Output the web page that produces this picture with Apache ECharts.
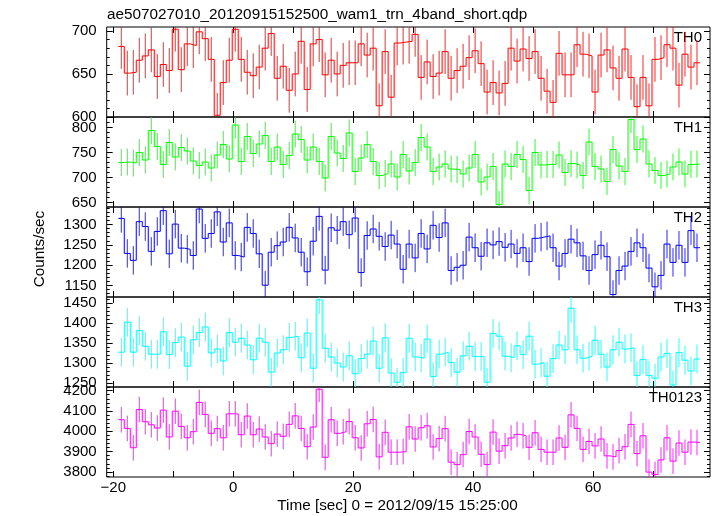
<!DOCTYPE html>
<html><head><meta charset="utf-8">
<script src="https://cdn.jsdelivr.net/npm/echarts@6/dist/echarts.min.js"></script>
<style>html,body{margin:0;padding:0;background:#fff}#c{width:717px;height:516px}</style>
</head><body><div id="c"></div>
<script>
const titleText = "ae507027010_20120915152500_wam1_trn_4band_short.qdp";
const xTitle = "Time [sec] 0 = 2012/09/15 15:25:00";
const yTitle = "Counts/sec";
// time bins (seconds): left edge of first bin and bin width
const binStart = -19.17;
const binWidth = 1.0;

const th0 = [682,651,652,666,671,678,647,661,654,702,655,685,683,699,691,667,602,640,666,702,
  667,652,648,658,680,697,645,659,631,650,688,632,685,690,649,666,650,660,663,663,
  685,672,680,613,676,623,686,687,688,696,646,664,647,651,676,645,654,659,669,677,
  662,629,640,628,639,680,665,679,668,676,645,630,617,674,649,649,684,673,671,629,
  672,678,657,645,679,646,612,646,613,667,669,684,680,637,673,658,663];
const th1 = [730,731,729,750,735,794,762,726,770,741,760,753,733,724,731,719,745,766,737,805,
  732,782,748,767,784,732,761,726,744,787,776,735,761,732,699,782,749,738,789,712,
  739,766,732,704,708,727,701,746,713,730,780,761,712,721,727,717,716,707,719,746,
  691,701,722,646,727,722,746,736,674,750,725,726,726,745,710,728,725,704,771,722,
  717,692,756,723,712,816,756,777,727,714,704,707,721,731,707,726,727];
const th2 = [1315,1229,1212,1307,1295,1234,1283,1334,1228,1301,1242,1239,1224,1338,1266,1278,1331,1257,1304,1224,
  1220,1293,1278,1228,1151,1232,1248,1257,1293,1267,1232,1184,1259,1320,1188,1292,1286,1307,1275,1316,
  1182,1273,1289,1271,1246,1274,1252,1190,1252,1218,1278,1240,1298,1268,1304,1187,1195,1200,1269,1243,
  1222,1255,1250,1258,1244,1252,1229,1243,1209,1266,1269,1272,1243,1198,1229,1264,1255,1223,1187,1226,
  1249,1221,1128,1187,1198,1234,1255,1243,1193,1147,1175,1252,1207,1249,1207,1285,1243];
const th3 = [1327,1402,1327,1381,1342,1322,1322,1378,1321,1351,1365,1292,1358,1376,1390,1325,1335,1305,1376,1352,
  1362,1345,1308,1362,1352,1277,1325,1333,1364,1367,1313,1375,1287,1458,1337,1315,1300,1290,1318,1273,
  1311,1322,1355,1287,1363,1275,1252,1276,1362,1315,1312,1360,1266,1322,1327,1301,1277,1318,1342,1316,
  1316,1252,1374,1367,1317,1313,1343,1321,1367,1297,1301,1267,1311,1345,1333,1437,1333,1312,1317,1357,
  1322,1290,1333,1352,1335,1338,1269,1309,1269,1262,1315,1324,1245,1326,1307,1280,1310];
const th0123 = [4057,4014,3919,4107,4047,4032,4016,4104,3972,4099,4024,3968,3998,4142,4083,3990,4013,3968,4086,4086,
  3983,4075,3983,4011,3972,3939,3986,3975,4034,4076,4014,3924,4021,4207,3872,4057,3990,3998,4048,3968,
  3918,4037,4058,3874,3995,3897,3897,3900,4022,3962,4017,4027,3923,3964,4013,3848,3836,3885,3999,3972,
  3887,3836,3996,3902,3929,3967,3985,3978,3921,3993,3911,3897,3897,3967,3921,4081,4014,3911,3950,3928,
  3962,3879,3874,3905,3924,4034,3890,3978,3799,3787,3859,3968,3853,3942,3897,3947,3945];

const panelNames = ["TH0","TH1","TH2","TH3","TH0123"];
const panelColors = ["#ff0000","#00ff00","#0000ff","#00ffff","#ff00ff"];
const errHalf = [26,27,35,36,63];
const yMin = [600,641,1122,1240,3775];
const yMax = [704.6,821,1343,1465,4218];
const yMajor = [[600,650,700],[650,700,750,800],[1150,1200,1250,1300],[1250,1300,1350,1400,1450],[3800,3900,4000,4100,4200]];
const yMinorStep = [10,10,10,10,20];
const xTicks = [-20,-10,0,10,20,30,40,50,60,70];
const xLabels = [-20,0,20,40,60];
const xMin = -21.1, xMax = 79.5;

const allSeries = [th0, th1, th2, th3, th0123];
const FONT = '"Liberation Sans", Arial, Helvetica, sans-serif';
const FS = 15;
const FT = 15.3;
const gridLeft = 106.7, gridRight = 7, gridTop = 27, panelH = 90;

const grids = [], xAxes = [], yAxes = [], ser = [], graphics = [];
for (let k = 0; k < allSeries.length; k++) {
  const top = gridTop + panelH * k;
  grids.push({left: gridLeft, right: gridRight, top: top, height: panelH, show: true,
    borderColor: '#000', borderWidth: 1, backgroundColor: 'transparent'});
  const minors = [];
  const st = yMinorStep[k];
  for (let v = Math.ceil(yMin[k] / st) * st; v <= yMax[k] + 1e-9; v += st) {
    if (!yMajor[k].includes(v)) minors.push(v);
  }
  const tickStyle = {color: '#000', width: 1};
  const noLine = {show: false, onZero: false};
  const xBase = {type: 'value', gridIndex: k, min: xMin, max: xMax,
    splitLine: {show: false}, axisLine: noLine,
    axisTick: {show: true, inside: true, length: 6, customValues: xTicks, lineStyle: tickStyle}};
  xAxes.push(Object.assign({}, xBase, {position: 'bottom',
    axisLabel: {show: k === allSeries.length - 1, customValues: xLabels, margin: 3,
      color: '#000', fontSize: FS, fontFamily: FONT,
      formatter: v => String(v).replace('-', '\u2212')}}));
  xAxes.push(Object.assign({}, xBase, {position: 'top', axisLabel: {show: false}}));

  const yBase = {type: 'value', gridIndex: k, min: yMin[k], max: yMax[k],
    splitLine: {show: false}, axisLine: noLine};
  yAxes.push(Object.assign({}, yBase, {position: 'left',
    axisTick: {show: true, inside: true, length: 6, customValues: yMajor[k], lineStyle: tickStyle},
    axisLabel: {show: true, customValues: yMajor[k], margin: 10, color: '#000', fontSize: FS, fontFamily: FONT,
      formatter: v => String(v)}}));
  yAxes.push(Object.assign({}, yBase, {position: 'left',
    axisTick: {show: true, inside: true, length: 3, customValues: minors, lineStyle: tickStyle},
    axisLabel: {show: false}}));
  yAxes.push(Object.assign({}, yBase, {position: 'right',
    axisTick: {show: true, inside: true, length: 6, customValues: yMajor[k], lineStyle: tickStyle},
    axisLabel: {show: false}}));
  yAxes.push(Object.assign({}, yBase, {position: 'right',
    axisTick: {show: true, inside: true, length: 3, customValues: minors, lineStyle: tickStyle},
    axisLabel: {show: false}}));

  const vals = allSeries[k];
  const stepData = vals.map((v, i) => [binStart + binWidth * i, v]);
  stepData.push([binStart + binWidth * vals.length, vals[vals.length - 1]]);
  const color = panelColors[k];
  ser.push({type: 'line', xAxisIndex: 2 * k, yAxisIndex: 4 * k, step: 'end', data: stepData,
    symbol: 'none', showSymbol: false, lineStyle: {color: color, width: 1}, silent: true,
    clip: true, animation: false, z: 3});
  const errData = vals.map((v, i) => [binStart + binWidth * (i + 0.5), v - errHalf[k], v + errHalf[k]]);
  ser.push({type: 'custom', xAxisIndex: 2 * k, yAxisIndex: 4 * k, data: errData,
    encode: {x: 0, y: [1, 2]}, silent: true, animation: false, z: 2,
    renderItem: function (params, api) {
      const t = api.value(0), lo = api.value(1), hi = api.value(2);
      const p1 = api.coord([t, lo]), p2 = api.coord([t, hi]);
      const cs = params.coordSys;
      const clampY = y => Math.min(Math.max(y, cs.y), cs.y + cs.height);
      return {type: 'line', shape: {x1: p1[0], y1: clampY(p1[1]), x2: p2[0], y2: clampY(p2[1])},
        style: {stroke: color, lineWidth: 1, opacity: 0.85}};
    }});

  graphics.push({type: 'text', x: 702, y: top + 11,
    style: {text: panelNames[k], fontSize: FS, fontFamily: FONT, fill: '#000',
      align: 'right', textAlign: 'right', verticalAlign: 'middle', textVerticalAlign: 'middle'}});
}

graphics.push({type: 'text', x: 107, y: 15,
  style: {text: titleText, fontSize: FT, fontFamily: FONT, fill: '#000',
    align: 'left', textAlign: 'left', verticalAlign: 'middle', textVerticalAlign: 'middle'}});
graphics.push({type: 'text', x: 397.5, y: 506,
  style: {text: xTitle, fontSize: FT, fontFamily: FONT, fill: '#000',
    align: 'center', textAlign: 'center', verticalAlign: 'middle', textVerticalAlign: 'middle'}});
graphics.push({type: 'text', x: 40, y: 249, rotation: Math.PI / 2,
  style: {text: yTitle, fontSize: FT, fontFamily: FONT, fill: '#000',
    align: 'center', textAlign: 'center', verticalAlign: 'middle', textVerticalAlign: 'middle'}});

const chart = echarts.init(document.getElementById('c'), null, {renderer: 'canvas'});
chart.setOption({
  animation: false,
  backgroundColor: '#fff',
  grid: grids,
  xAxis: xAxes,
  yAxis: yAxes,
  series: ser,
  graphic: graphics
});
</script>
</body></html>
